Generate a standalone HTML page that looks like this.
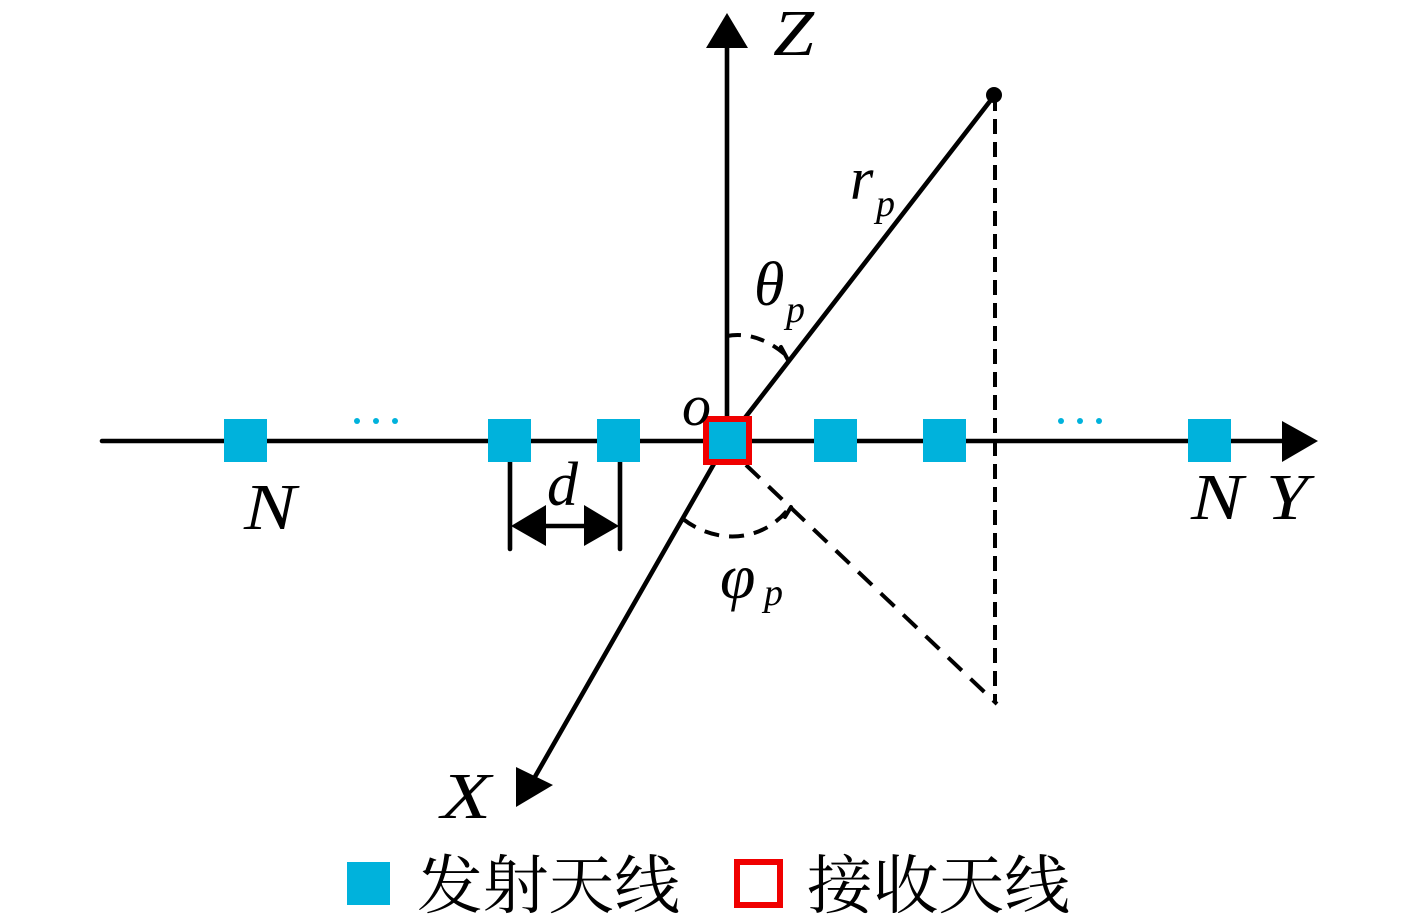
<!DOCTYPE html>
<html>
<head>
<meta charset="utf-8">
<style>
html,body{margin:0;padding:0;background:#fff}
svg{display:block}
.m{font-family:"Liberation Serif",serif;font-style:italic;fill:#000}
.c{font-family:"Noto Serif CJK SC","Liberation Serif",serif;font-size:64px;fill:#000}
</style>
</head>
<body>
<svg width="1417" height="917" viewBox="0 0 1417 917" xmlns="http://www.w3.org/2000/svg">
<rect width="1417" height="917" fill="#fff"/>
<g stroke="#000" stroke-width="4.6" fill="none" stroke-linecap="round">
  <line x1="102" y1="441" x2="1290" y2="441"/>
  <line x1="727" y1="441" x2="727" y2="40"/>
  <line x1="727" y1="441" x2="532" y2="782"/>
  <line x1="727" y1="441" x2="994" y2="96"/>
  <line x1="510" y1="462" x2="510" y2="549"/>
  <line x1="620" y1="462" x2="620" y2="549"/>
  <line x1="540" y1="526" x2="590" y2="526"/>
  <path d="M727 336 C748 332 770 340 789 358" stroke-width="4" stroke-dasharray="14 10" stroke-linecap="butt"/>
  <line x1="781" y1="347" x2="788" y2="360" stroke-width="4"/>
  <path d="M683 519 C715 544 762 544 790 507" stroke-width="4" stroke-dasharray="15 10" stroke-linecap="butt"/>
  <line x1="785" y1="517" x2="791" y2="507" stroke-width="4"/>
  <line x1="746" y1="465" x2="997" y2="704" stroke-width="4" stroke-dasharray="19 12" stroke-linecap="butt"/>
  <line x1="995" y1="96" x2="995" y2="703" stroke-width="4" stroke-dasharray="15 8" stroke-linecap="butt"/>
</g>
<circle cx="994" cy="95" r="8" fill="#000"/>
<polygon points="727,13 748,48 706,48" fill="#000"/>
<polygon points="1318,441 1282,421 1282,462" fill="#000"/>
<polygon points="553,785 516,767 516,807" fill="#000"/>
<polygon points="511,526 546,505 546,546" fill="#000"/>
<polygon points="619,526 584,505 584,546" fill="#000"/>
<g fill="#00b2dc">
  <rect x="224" y="419" width="43" height="43"/>
  <rect x="488" y="419" width="43" height="43"/>
  <rect x="597" y="419" width="43" height="43"/>
  <rect x="814" y="419" width="43" height="43"/>
  <rect x="923" y="419" width="43" height="43"/>
  <rect x="1188" y="419" width="43" height="43"/>
  <rect x="347" y="862" width="43" height="43"/>
</g>
<rect x="706" y="419" width="43" height="43" fill="#00b2dc" stroke="#f00000" stroke-width="6"/>
<rect x="737" y="862" width="43" height="43" fill="#fff" stroke="#f00000" stroke-width="6"/>
<g fill="#00b2dc">
  <circle cx="357" cy="421" r="3"/><circle cx="376" cy="421" r="3"/><circle cx="395" cy="421" r="3"/>
  <circle cx="1061" cy="421" r="3"/><circle cx="1080" cy="421" r="3"/><circle cx="1099" cy="421" r="3"/>
</g>
<g class="m">
  <text class="m" x="773" y="55" font-size="66" textLength="41" lengthAdjust="spacingAndGlyphs">Z</text>
  <text class="m" x="1266" y="519" font-size="66" textLength="42" lengthAdjust="spacingAndGlyphs">Y</text>
  <text class="m" x="441" y="818" font-size="66" textLength="50" lengthAdjust="spacingAndGlyphs">X</text>
  <text class="m" x="244" y="529" font-size="66" textLength="52" lengthAdjust="spacingAndGlyphs">N</text>
  <text class="m" x="1191" y="519" font-size="66" textLength="52" lengthAdjust="spacingAndGlyphs">N</text>
  <text class="m" x="682" y="425" font-size="58">o</text>
  <text class="m" x="547" y="505" font-size="62">d</text>
  <text class="m" x="850" y="199" font-size="60">r</text>
  <text class="m" x="876" y="216" font-size="38">p</text>
  <text class="m" x="754" y="305" font-size="62">θ</text>
  <text class="m" x="786" y="322" font-size="38">p</text>
  <text class="m" x="720" y="598" font-size="64">φ</text>
  <text class="m" x="764" y="605" font-size="38">p</text>
</g>
<text class="c" x="417" y="908" textLength="263" lengthAdjust="spacingAndGlyphs">发射天线</text>
<text class="c" x="807" y="908" textLength="263" lengthAdjust="spacingAndGlyphs">接收天线</text>
</svg>
</body>
</html>
